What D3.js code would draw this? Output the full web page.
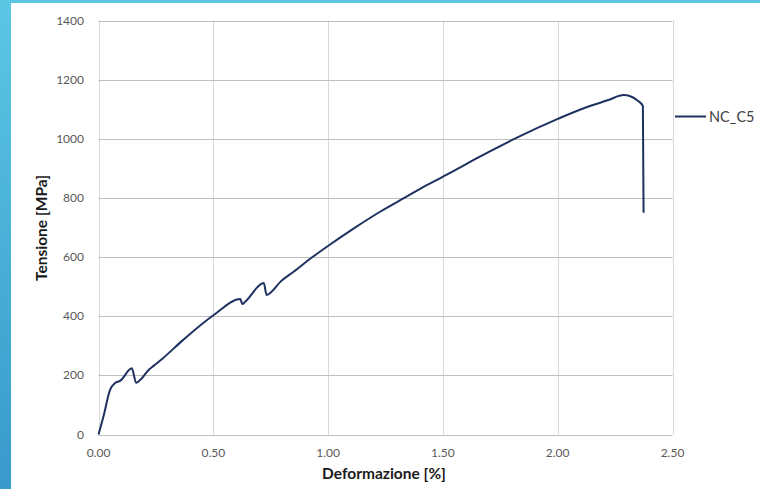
<!DOCTYPE html>
<html>
<head>
<meta charset="utf-8">
<script src="https://cdn.jsdelivr.net/npm/d3@7"></script>
<style>
  html, body { margin: 0; padding: 0; }
  body { width: 760px; height: 489px; overflow: hidden; background: #fff; }
  text { font-family: Lato, "Open Sans", sans-serif; }
</style>
</head>
<body>
<div id="main"></div>
<script>

// data
var seriesName = "NC_C5";
var strain = [0, 0.021, 0.050, 0.072, 0.094, 0.145, 0.164, 0.181, 0.218, 0.240, 0.282, 0.369,
	0.502, 0.618, 0.626, 0.640, 0.720, 0.732, 0.750, 0.793, 0.851, 0.932, 1.004, 1.114,
	1.230, 1.332, 1.434, 1.493, 1.580, 1.638, 1.820, 2.003, 2.119, 2.221, 2.287, 2.316,
	2.345, 2.371, 2.374];
var stress = [0, 59, 150, 174, 181, 224, 175, 184, 218, 232, 259, 320,
	404, 458, 441, 450, 512, 472, 480, 517, 551, 600, 640, 698,
	755, 800, 845, 869, 905, 930, 1003, 1068, 1105, 1131, 1148, 1144,
	1131, 1111, 750];
var xTicks = [0, 0.5, 1, 1.5, 2, 2.5];
var yTicks = [0, 200, 400, 600, 800, 1000, 1200, 1400];

//Width and height
var w = 760,
	h = 489;

var plotLeft = 98.5, plotRight = 672.5, plotTop = 20.5, plotBottom = 434.5;

var x = d3.scaleLinear().domain([0, 2.5]).range([plotLeft, plotRight]);
var y = d3.scaleLinear().domain([0, 1400]).range([plotBottom, plotTop]);

var svg = d3.select("#main")
	.append("svg")
	.attr("width", w)
	.attr("height", h);

// blue frame on left and top
var defs = svg.append("defs");
var grad = defs.append("linearGradient")
	.attr("id", "frameGrad")
	.attr("x1", 0).attr("y1", 0).attr("x2", 0).attr("y2", 1);
grad.append("stop").attr("offset", "0%").attr("stop-color", "#5cc7e4");
grad.append("stop").attr("offset", "100%").attr("stop-color", "#3899cb");

svg.append("rect").attr("x", 0).attr("y", 0).attr("width", w).attr("height", h)
	.attr("fill", "url(#frameGrad)");
svg.append("rect").attr("x", 0).attr("y", 0).attr("width", w).attr("height", 3)
	.attr("fill", "#5cc6e3");
svg.append("rect").attr("x", 11).attr("y", 3).attr("width", w - 11).attr("height", h - 3)
	.attr("fill", "#fff");

// vertical gridlines
svg.append("g")
	.selectAll("line")
	.data(xTicks)
	.enter()
	.append("line")
	.attr("x1", function(d) { return Math.round(x(d)) + 0.5; })
	.attr("x2", function(d) { return Math.round(x(d)) + 0.5; })
	.attr("y1", plotTop)
	.attr("y2", plotBottom)
	.attr("stroke", "#d9d9d9")
	.attr("stroke-width", 1);

// horizontal gridlines
svg.append("g")
	.selectAll("line")
	.data(yTicks)
	.enter()
	.append("line")
	.attr("x1", plotLeft)
	.attr("x2", plotRight)
	.attr("y1", function(d) { return Math.round(y(d)) + 0.5; })
	.attr("y2", function(d) { return Math.round(y(d)) + 0.5; })
	.attr("stroke", "#bfbfbf")
	.attr("stroke-width", 1);

// y tick labels
svg.append("g")
	.selectAll("text")
	.data(yTicks)
	.enter()
	.append("text")
	.attr("x", 84)
	.attr("y", function(d) { return y(d) + 4; })
	.attr("text-anchor", "end")
	.attr("font-size", "12px")
	.attr("fill", "#595959")
	.text(function(d) { return d; });

// x tick labels
svg.append("g")
	.selectAll("text")
	.data(xTicks)
	.enter()
	.append("text")
	.attr("x", function(d) { return x(d); })
	.attr("y", 457)
	.attr("text-anchor", "middle")
	.attr("font-size", "12px")
	.attr("fill", "#595959")
	.text(function(d) { return d3.format(".2f")(d); });

// axis titles
svg.append("text")
	.attr("x", 384)
	.attr("y", 479)
	.attr("text-anchor", "middle")
	.attr("font-size", "15.5px")
	.attr("font-weight", "bold")
	.attr("fill", "#1a1a1a")
	.text("Deformazione [%]");

svg.append("text")
	.attr("transform", "translate(47," + 228 + ") rotate(-90)")
	.attr("text-anchor", "middle")
	.attr("font-size", "15.5px")
	.attr("font-weight", "bold")
	.attr("fill", "#1a1a1a")
	.text("Tensione [MPa]");

// series line
var pts = strain.map(function(d, i) { return [d, stress[i]]; });
var line = d3.line()
	.x(function(d) { return x(d[0]); })
	.y(function(d) { return y(d[1]); })
	.curve(d3.curveMonotoneX);

svg.append("path")
	.datum(pts)
	.attr("d", line)
	.attr("fill", "none")
	.attr("stroke", "#1f3160")
	.attr("stroke-width", 2)
	.attr("stroke-linejoin", "round");

// legend
svg.append("line")
	.attr("x1", 675).attr("x2", 706)
	.attr("y1", 116.5).attr("y2", 116.5)
	.attr("stroke", "#1f3160")
	.attr("stroke-width", 2);
svg.append("text")
	.attr("x", 709)
	.attr("y", 121.5)
	.attr("font-size", "14.5px")
	.attr("fill", "#404040")
	.text(seriesName);

</script>
</body>
</html>
